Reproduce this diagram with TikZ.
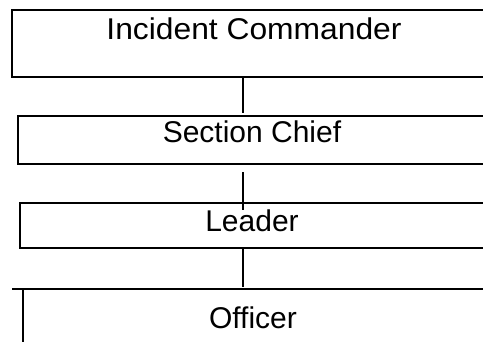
\documentclass[tikz,border=0pt]{standalone}
\usepackage{fontspec}
\setmainfont{Liberation Sans}
\begin{document}
\begin{tikzpicture}[x=1pt,y=-1pt,
  box/.style={draw, line width=2.4pt, rectangle, anchor=north west, inner sep=0pt},
  lbl/.style={font=\fontsize{30}{36}\selectfont, anchor=base, inner sep=0pt},
  conn/.style={line width=1.2pt},
  edge/.style={line width=1.6pt}]
\useasboundingbox (0,0) rectangle (483,341);
\clip (0,0) rectangle (483,341);
\coordinate (cx) at (243,0);
% boxes
\node[box, minimum width=490pt, minimum height=67pt] (ic) at (11,9) {};
\node[box, minimum width=490pt, minimum height=48pt] (sc) at (17,115) {};
\node[box, minimum width=490pt, minimum height=45pt] (ld) at (19,202) {};
\coordinate (ofL) at (12,289);
\coordinate (ofR) at (500,289);
\coordinate (ofC) at (23,289);
\coordinate (ofB) at (23,345);
\draw[edge] (ofL) -- (ofR);
\draw[edge] (ofC) -- (ofB);
% texts
\node[lbl] (ict) at (254,39) {\scalebox{1.06}[1]{Incident Commander}};
\node[lbl] (sct) at (252,142.5) {Section Chief};
\node[lbl] (ldt) at (252,231) {Leader};
\node[lbl] (oft) at (253,328) {Officer};
% connectors
\draw[conn] (ic.south -| cx) -- ([yshift=2pt]sc.north -| cx);
\draw[conn, shorten <=7pt, shorten >=-8pt] (sc.south -| cx) -- (ld.north -| cx);
\draw[conn] (ld.south -| cx) -- ([yshift=2pt]ofL -| cx);
\end{tikzpicture}
\end{document}
